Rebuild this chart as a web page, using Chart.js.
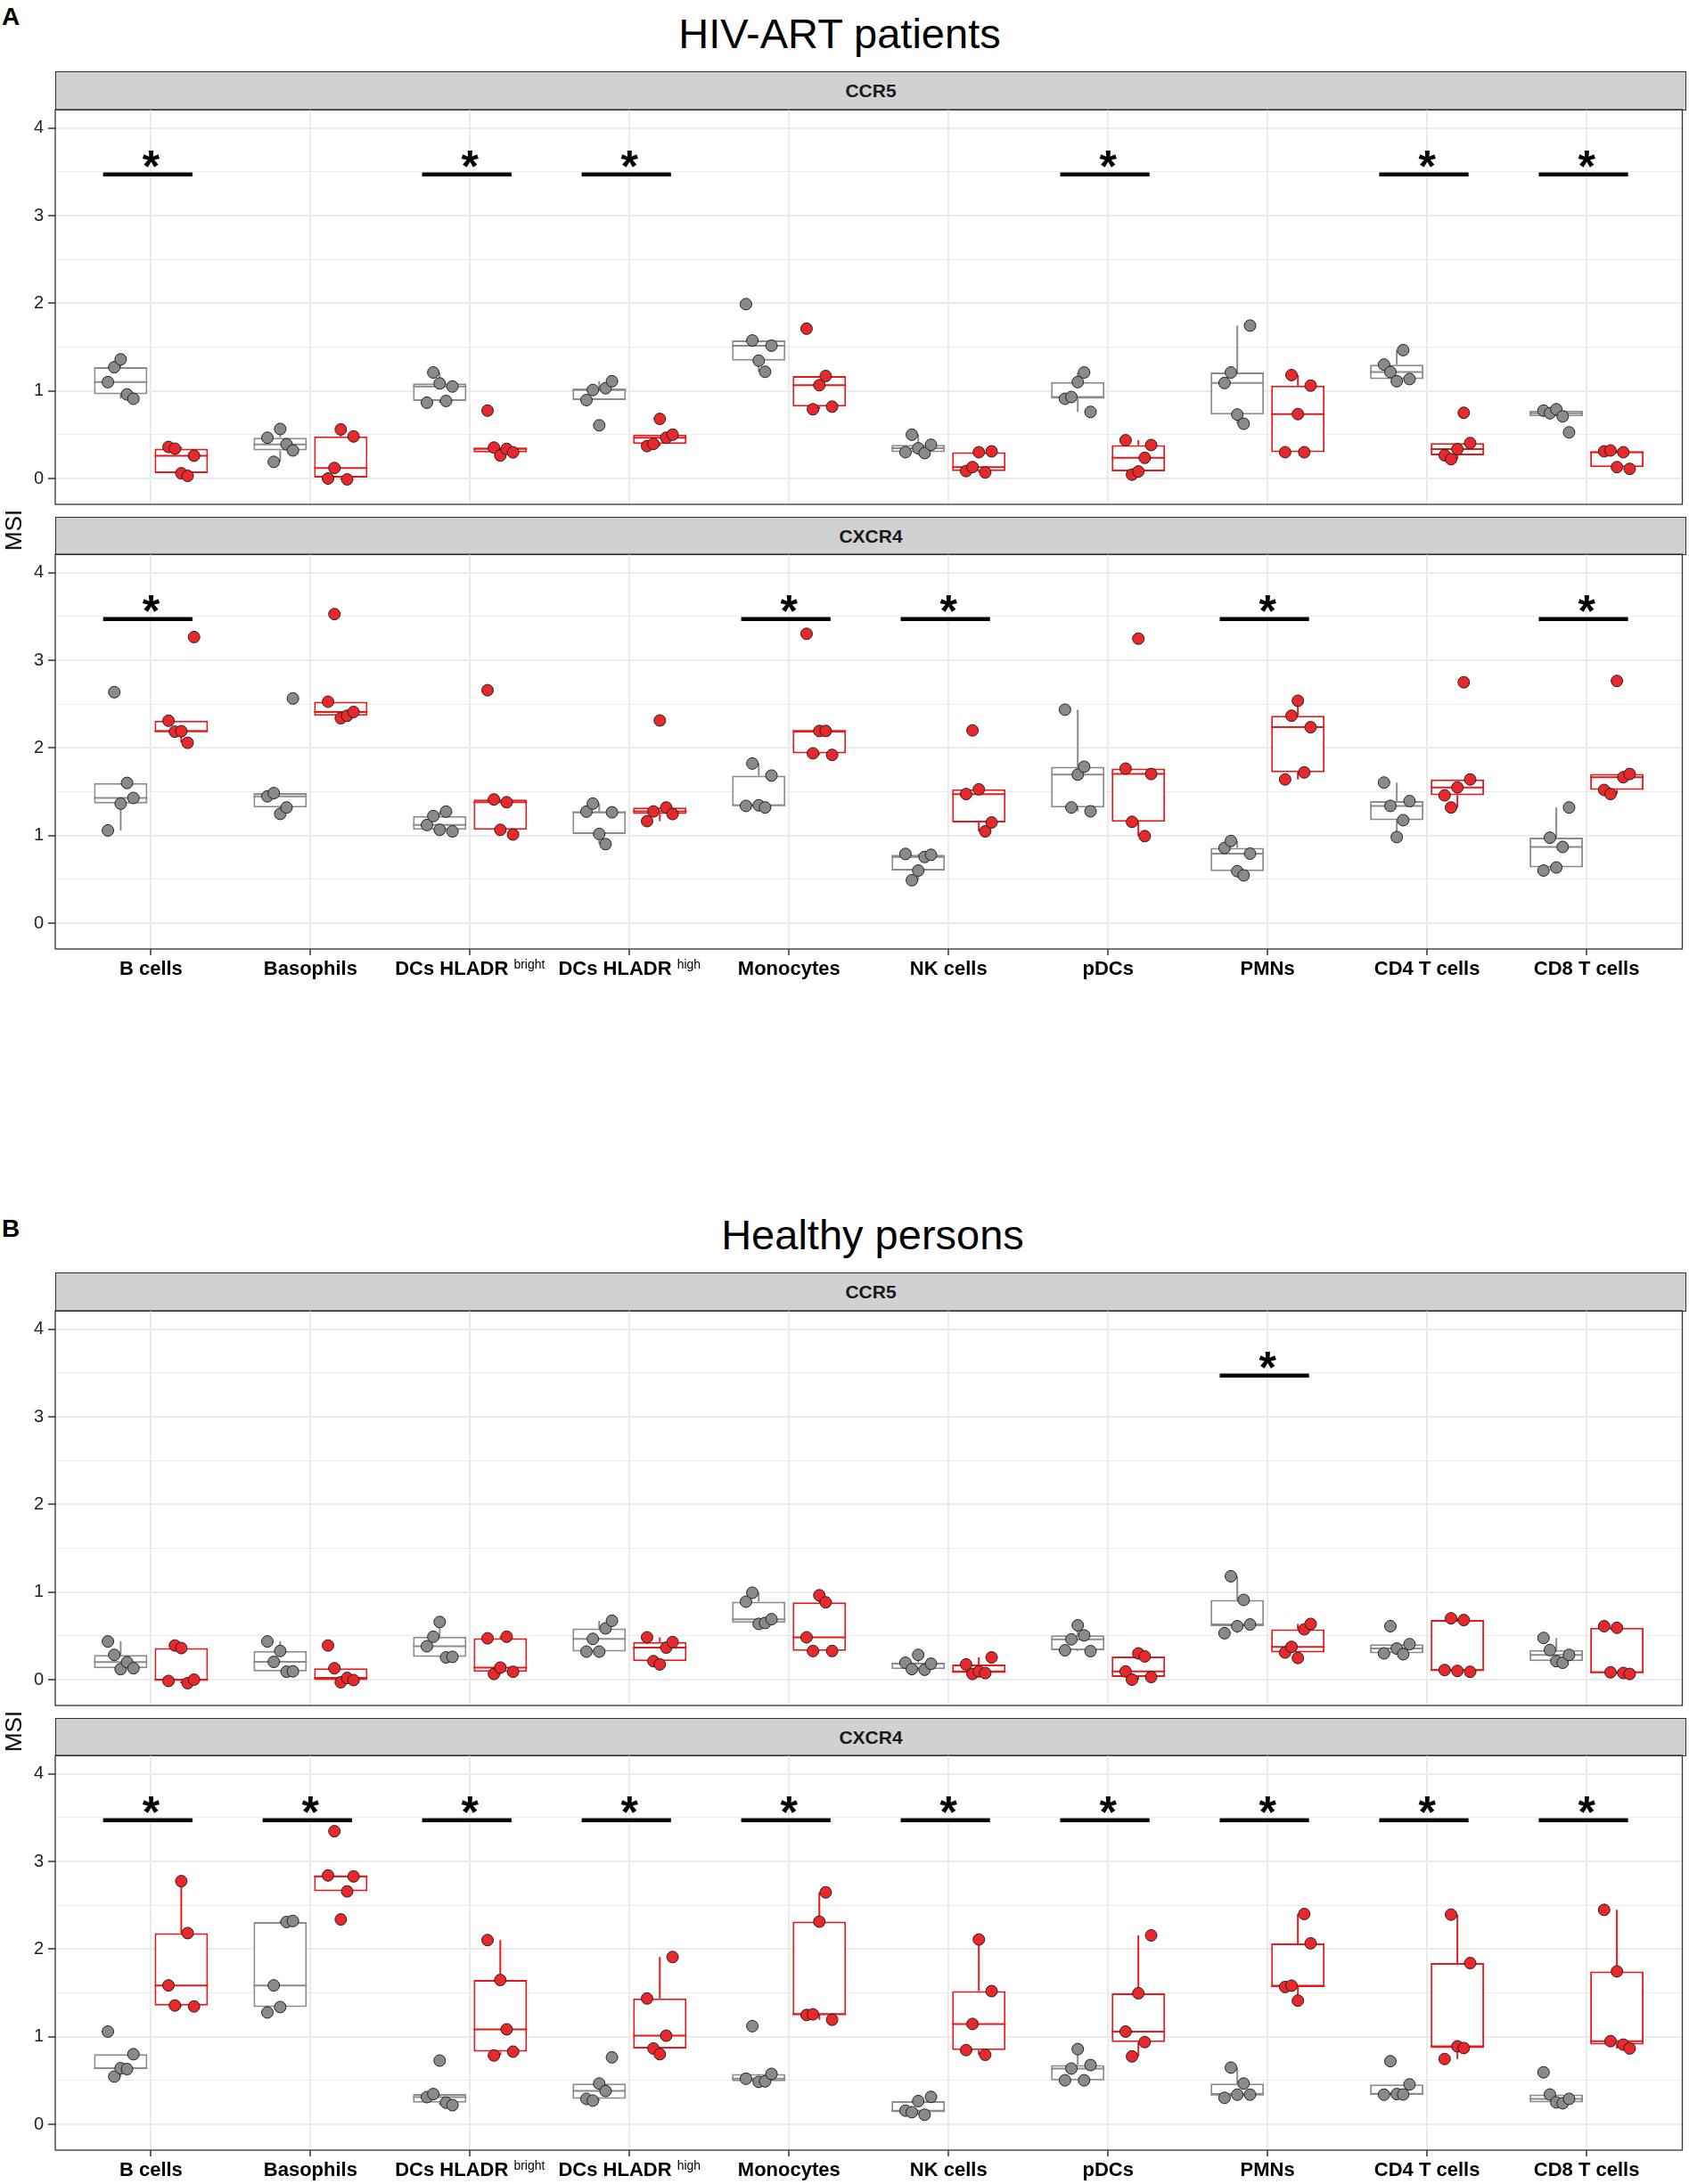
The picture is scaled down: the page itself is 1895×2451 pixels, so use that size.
<!DOCTYPE html>
<html>
<head>
<meta charset="utf-8">
<script src="https://cdn.jsdelivr.net/npm/chart.js@4.4.1/dist/chart.umd.min.js"></script>
<style>
  html, body { margin: 0; padding: 0; background: #fff; }
  body { position: relative; width: 1895px; height: 2451px; overflow: hidden;
         font-family: 'Liberation Sans', Arial, sans-serif; color: #000; }
  .abs { position: absolute; }
  .tag { font-weight: bold; font-size: 28px; line-height: 28px; }
  .title { font-size: 47px; line-height: 47px; white-space: nowrap; transform: translateX(-50%); }
  .strip { left: 62px; width: 1830px; box-sizing: border-box; background: #d1d1d1;
           border: 1.3px solid #333; font-weight: bold; font-size: 21px; color: #1a1a1a;
           display: flex; align-items: center; justify-content: center; }
  .ylab { font-size: 26px; line-height: 26px; white-space: nowrap;
          transform: translate(-50%, -50%) rotate(-90deg); }
</style>
</head>
<body>
<script>
// categories (x axis)
const cellTypes = ["B cells", "Basophils", "DCs HLADR", "DCs HLADR", "Monocytes",
  "NK cells", "pDCs", "PMNs", "CD4 T cells", "CD8 T cells"];
const cellTypeSup = ["", "", "bright", "high", "", "", "", "", "", ""];
const yTickValues = [0, 1, 2, 3, 4];

// MSI per cell type, 5 donors each (grey = first group, red = second group)
// --- A: HIV-ART patients, CCR5
const hivCcr5Grey = [
  [1.10, 1.27, 1.36, 0.96, 0.91], [0.465, 0.19, 0.565, 0.39, 0.32],
  [0.865, 1.21, 1.085, 0.885, 1.05], [0.895, 1.01, 0.607, 1.03, 1.11],
  [1.99, 1.575, 1.345, 1.218, 1.516], [0.30, 0.50, 0.345, 0.29, 0.385],
  [0.91, 0.93, 1.10, 1.21, 0.76], [1.09, 1.21, 0.73, 0.625, 1.745],
  [1.30, 1.215, 1.11, 1.465, 1.135], [0.775, 0.745, 0.79, 0.709, 0.527],
];
const hivCcr5Red = [
  [0.36, 0.34, 0.06, 0.03, 0.26], [0.0, 0.12, 0.56, -0.01, 0.48],
  [0.775, 0.353, 0.262, 0.338, 0.298], [0.37, 0.395, 0.68, 0.465, 0.50],
  [1.71, 0.79, 1.065, 1.17, 0.82], [0.085, 0.13, 0.30, 0.07, 0.31],
  [0.436, 0.044, 0.08, 0.236, 0.382], [0.30, 1.18, 0.735, 0.30, 1.06],
  [0.265, 0.22, 0.335, 0.75, 0.405], [0.31, 0.32, 0.13, 0.30, 0.11],
];
const hivCcr5Sig = [1, 0, 1, 1, 0, 0, 1, 0, 1, 1];
// --- A: HIV-ART patients, CXCR4
const hivCxcr4Grey = [
  [1.058, 2.636, 1.364, 1.6, 1.429], [1.447, 1.484, 1.247, 1.32, 2.564],
  [1.12, 1.222, 1.065, 1.273, 1.047], [1.273, 1.364, 1.018, 0.902, 1.265],
  [1.338, 1.822, 1.345, 1.32, 1.684], [0.79, 0.49, 0.60, 0.755, 0.78],
  [2.436, 1.32, 1.695, 1.785, 1.276], [0.858, 0.938, 0.593, 0.545, 0.793],
  [1.604, 1.338, 0.982, 1.175, 1.393], [0.60, 0.975, 0.635, 0.87, 1.32],
];
const hivCxcr4Red = [
  [2.31, 2.185, 2.19, 2.058, 3.265], [2.527, 3.527, 2.338, 2.367, 2.41],
  [2.658, 1.411, 1.065, 1.38, 1.011], [1.164, 1.275, 2.313, 1.32, 1.245],
  [3.302, 1.938, 2.193, 2.193, 1.92], [1.473, 2.2, 1.527, 1.047, 1.149],
  [1.764, 1.156, 3.247, 0.993, 1.702], [1.64, 2.367, 2.538, 1.72, 2.236],
  [1.458, 1.32, 1.549, 2.749, 1.64], [1.52, 1.473, 2.764, 1.665, 1.702],
];
const hivCxcr4Sig = [1, 0, 0, 0, 1, 1, 0, 1, 0, 1];
// --- B: Healthy persons, CCR5
const healthyCcr5Grey = [
  [0.436, 0.283, 0.12, 0.20, 0.13], [0.436, 0.203, 0.327, 0.091, 0.095],
  [0.381, 0.49, 0.658, 0.254, 0.26], [0.32, 0.465, 0.32, 0.585, 0.672],
  [0.89, 0.992, 0.636, 0.647, 0.69], [0.193, 0.12, 0.283, 0.113, 0.182],
  [0.335, 0.46, 0.62, 0.505, 0.325], [0.53, 1.18, 0.61, 0.91, 0.63],
  [0.30, 0.61, 0.355, 0.29, 0.405], [0.476, 0.338, 0.211, 0.193, 0.283],
];
const healthyCcr5Red = [
  [-0.015, 0.39, 0.36, -0.04, 0.0], [0.39, 0.13, -0.03, 0.02, -0.005],
  [0.472, 0.065, 0.138, 0.49, 0.09], [0.483, 0.211, 0.174, 0.365, 0.429],
  [0.483, 0.327, 0.963, 0.883, 0.327], [0.174, 0.065, 0.094, 0.075, 0.254],
  [0.094, 0.0, 0.30, 0.265, 0.03], [0.309, 0.374, 0.247, 0.574, 0.636],
  [0.11, 0.70, 0.10, 0.68, 0.09], [0.61, 0.084, 0.592, 0.076, 0.065],
];
const healthyCcr5Sig = [0, 0, 0, 0, 0, 0, 0, 1, 0, 0];
// --- B: Healthy persons, CXCR4
const healthyCxcr4Grey = [
  [1.058, 0.545, 0.64, 0.63, 0.80], [1.276, 1.585, 1.338, 2.309, 2.32],
  [0.31, 0.345, 0.727, 0.247, 0.218], [0.29, 0.27, 0.465, 0.38, 0.764],
  [0.52, 1.12, 0.484, 0.49, 0.575], [0.156, 0.138, 0.265, 0.109, 0.313],
  [0.502, 0.636, 0.858, 0.502, 0.676], [0.302, 0.647, 0.338, 0.465, 0.338],
  [0.338, 0.72, 0.345, 0.34, 0.455], [0.593, 0.34, 0.25, 0.24, 0.29],
];
const healthyCxcr4Red = [
  [1.585, 1.356, 2.775, 2.182, 1.345], [2.84, 3.345, 2.338, 2.658, 2.829],
  [2.102, 0.785, 1.647, 1.084, 0.829], [1.436, 0.865, 0.80, 1.011, 1.909],
  [1.247, 1.255, 2.313, 2.647, 1.193], [0.847, 1.145, 2.109, 0.793, 1.52],
  [1.058, 0.775, 1.495, 0.938, 2.156], [1.567, 1.582, 1.411, 2.4, 2.065],
  [0.745, 2.393, 0.89, 0.87, 1.84], [2.447, 0.949, 1.745, 0.909, 0.865],
];
const healthyCxcr4Sig = [1, 1, 1, 1, 1, 1, 1, 1, 1, 1];

// layout / style
const FONT = "'Liberation Sans', Arial, sans-serif";
const PANEL_H = 443, PAD = 20;
const DODGE = 0.19, BOX_W = 0.335;
const JITTER = [-0.08, -0.04, 0, 0.04, 0.08];
const SIG_Y = 3.47, STAR_Y = 3.65;
const GREY = { line: "#8c8c8c", fill: "#8a8a8a" };
const RED = { line: "#e41a1c", fill: "#e8282b" };

Chart.defaults.font.family = FONT;
Chart.defaults.animation = false;

const sections = [
  { tag: "A", tagTop: 5, title: "HIV-ART patients", titleX: 942, titleTop: 14, top: 0,
    panels: [
      { name: "CCR5", grey: hivCcr5Grey, red: hivCcr5Red, sig: hivCcr5Sig },
      { name: "CXCR4", grey: hivCxcr4Grey, red: hivCxcr4Red, sig: hivCxcr4Sig },
    ] },
  { tag: "B", tagTop: 1365, title: "Healthy persons", titleX: 979, titleTop: 1362, top: 1348,
    panels: [
      { name: "CCR5", grey: healthyCcr5Grey, red: healthyCcr5Red, sig: healthyCcr5Sig },
      { name: "CXCR4", grey: healthyCxcr4Grey, red: healthyCxcr4Red, sig: healthyCxcr4Sig },
    ] },
];

// boxplot stats (quantile type 7, whiskers 1.5 IQR)
function quantile(sorted, p) {
  const h = (sorted.length - 1) * p, lo = Math.floor(h);
  return sorted[lo] + (h - lo) * ((sorted[lo + 1] ?? sorted[lo]) - sorted[lo]);
}
function boxStats(vals) {
  const s = [...vals].sort((a, b) => a - b);
  const q1 = quantile(s, 0.25), med = quantile(s, 0.5), q3 = quantile(s, 0.75);
  const iqr = q3 - q1;
  const lo = Math.min(...s.filter((v) => v >= q1 - 1.5 * iqr));
  const hi = Math.max(...s.filter((v) => v <= q3 + 1.5 * iqr));
  return { q1, med, q3, lo, hi };
}

function groupDatasets(values, shift, col) {
  const stats = values.map(boxStats);
  const segs = [];
  stats.forEach((s, i) => {
    const x = i + shift;
    segs.push({ x, y: s.lo }, { x, y: s.q1 }, { x, y: null },
      { x, y: s.q3 }, { x, y: s.hi }, { x, y: null },
      { x: x - BOX_W / 2, y: s.med }, { x: x + BOX_W / 2, y: s.med }, { x, y: null });
  });
  return [
    {
      type: "bar",
      data: stats.map((s, i) => ({ x: i + shift, y: [s.q1, s.q3] })),
      backgroundColor: "#ffffff", borderColor: col.line, borderWidth: 2,
      borderSkipped: false, grouped: false,
      categoryPercentage: 1, barPercentage: BOX_W / (2 * DODGE), order: 4,
    },
    {
      type: "line", data: segs, borderColor: col.line, borderWidth: 2,
      pointRadius: 0, spanGaps: false, fill: false, order: 3,
    },
    {
      type: "scatter",
      data: values.flatMap((vals, i) => vals.map((v, j) => ({ x: i + shift + JITTER[j], y: v }))),
      backgroundColor: col.fill, borderColor: "#222", borderWidth: 1,
      pointRadius: 6.5, order: 1,
    },
  ];
}

// plugins
const panelFrame = {
  id: "panelFrame",
  afterDraw(chart) {
    const a = chart.chartArea, c = chart.ctx;
    c.save();
    c.strokeStyle = "#333";
    c.lineWidth = 1.3;
    c.strokeRect(a.left, a.top, a.right - a.left, a.bottom - a.top);
    c.restore();
  },
};
const sigStars = {
  id: "sigStars",
  afterDatasetsDraw(chart, args, opts) {
    const c = chart.ctx, xs = chart.scales.x, ys = chart.scales.y;
    c.save();
    c.font = "bold 50px " + FONT;
    c.textAlign = "center";
    c.textBaseline = "alphabetic";
    c.fillStyle = "#000";
    const m = c.measureText("*");
    const shift = (m.actualBoundingBoxAscent - m.actualBoundingBoxDescent) / 2;
    opts.sig.forEach((s, i) => {
      if (s) c.fillText("*", xs.getPixelForValue(i), ys.getPixelForValue(STAR_Y) + shift);
    });
    c.restore();
  },
};
const cellLabels = {
  id: "cellLabels",
  afterDraw(chart, args, opts) {
    if (!opts.show) return;
    const c = chart.ctx, xs = chart.scales.x, base = chart.chartArea.bottom + 29;
    const big = "bold 22px " + FONT, small = "14px " + FONT;
    c.save();
    c.fillStyle = "#000";
    c.textAlign = "left";
    c.textBaseline = "alphabetic";
    cellTypes.forEach((name, i) => {
      const sup = cellTypeSup[i];
      const main = sup ? name + " " : name;
      c.font = big;
      const wm = c.measureText(main).width;
      c.font = small;
      const ws = sup ? c.measureText(sup).width : 0;
      const x0 = xs.getPixelForValue(i) - (wm + ws) / 2;
      c.font = big;
      c.fillText(main, x0, base);
      if (sup) {
        c.font = small;
        c.fillText(sup, x0 + wm, base - 7);
      }
    });
    c.restore();
  },
};

function addDiv(cls, style, text) {
  const d = document.createElement("div");
  d.className = "abs " + cls;
  d.style.cssText = style;
  d.textContent = text;
  document.body.appendChild(d);
  return d;
}

function makePanel(p, panelTop, isBottom) {
  const axisH = isBottom ? 40 : 0;
  const h = PAD + PANEL_H + axisH + (isBottom ? 0 : PAD);
  const wrap = document.createElement("div");
  wrap.style.cssText = `position:absolute;left:0;top:${panelTop - PAD}px;width:1895px;height:${h}px`;
  const canvas = document.createElement("canvas");
  canvas.width = 1895;
  canvas.height = h;
  canvas.style.width = "1895px";
  canvas.style.height = h + "px";
  wrap.appendChild(canvas);
  document.body.appendChild(wrap);

  const sigSegs = [];
  p.sig.forEach((s, i) => {
    if (s) sigSegs.push({ x: i - 0.3, y: SIG_Y }, { x: i + 0.26, y: SIG_Y }, { x: i, y: null });
  });

  const datasets = [
    ...groupDatasets(p.grey, -DODGE, GREY),
    ...groupDatasets(p.red, DODGE, RED),
    {
      type: "line", data: sigSegs, borderColor: "#000", borderWidth: 4.5,
      borderCapStyle: "butt", pointRadius: 0, spanGaps: false, fill: false, order: 2,
    },
  ];

  const chart = new Chart(canvas, {
    type: "bar",
    data: { datasets },
    options: {
      responsive: false,
      events: [],
      layout: { padding: { top: PAD, bottom: isBottom ? 0 : PAD, left: 0, right: 3 } },
      plugins: {
        legend: { display: false },
        tooltip: { enabled: false },
        sigStars: { sig: p.sig },
        cellLabels: { show: isBottom },
      },
      scales: {
        x: {
          type: "linear", min: -0.6, max: 9.6, offset: false,
          afterFit: (s) => { s.height = axisH; },
          border: { display: false },
          grid: { offset: false, color: "#ebebeb", lineWidth: 2, drawTicks: isBottom, tickLength: 7,
                  tickColor: "#333", tickWidth: 1.5 },
          ticks: { stepSize: 1, includeBounds: false, display: false },
        },
        y: {
          type: "linear", min: -0.295, max: 4.21,
          afterFit: (s) => { s.width = 62; },
          border: { display: false },
          grid: {
            color: "#ebebeb",
            lineWidth: (c) => (c.tick && yTickValues.includes(c.tick.value) ? 2 : 1.1),
            tickLength: 8,
            tickColor: (c) => (c.tick && yTickValues.includes(c.tick.value) ? "#333" : "rgba(0,0,0,0)"),
            tickWidth: 1.5,
          },
          ticks: {
            stepSize: 0.5, includeBounds: false, padding: 5, color: "#1f1f1f",
            font: { size: 20 },
            callback: (v) => (yTickValues.includes(v) ? String(v) : ""),
          },
        },
      },
    },
    plugins: [panelFrame, sigStars, cellLabels],
  });
  // keep the plot area exactly where the panel should be
  wrap.style.top = panelTop - chart.chartArea.top + "px";
  return chart;
}

sections.forEach((sec) => {
  const T = sec.top;
  addDiv("tag", `left:2px;top:${sec.tagTop}px`, sec.tag);
  addDiv("title", `left:${sec.titleX}px;top:${sec.titleTop}px`, sec.title);
  const stripTops = [T + 80, T + 580];
  const panelTops = [T + 123, T + 622];
  sec.panels.forEach((p, k) => {
    addDiv("strip", `top:${stripTops[k]}px;height:${panelTops[k] - stripTops[k] + 1}px`, p.name);
    makePanel(p, panelTops[k], k === 1);
  });
  addDiv("ylab", `left:15px;top:${T + 595}px`, "MSI");
});
</script>
</body>
</html>
